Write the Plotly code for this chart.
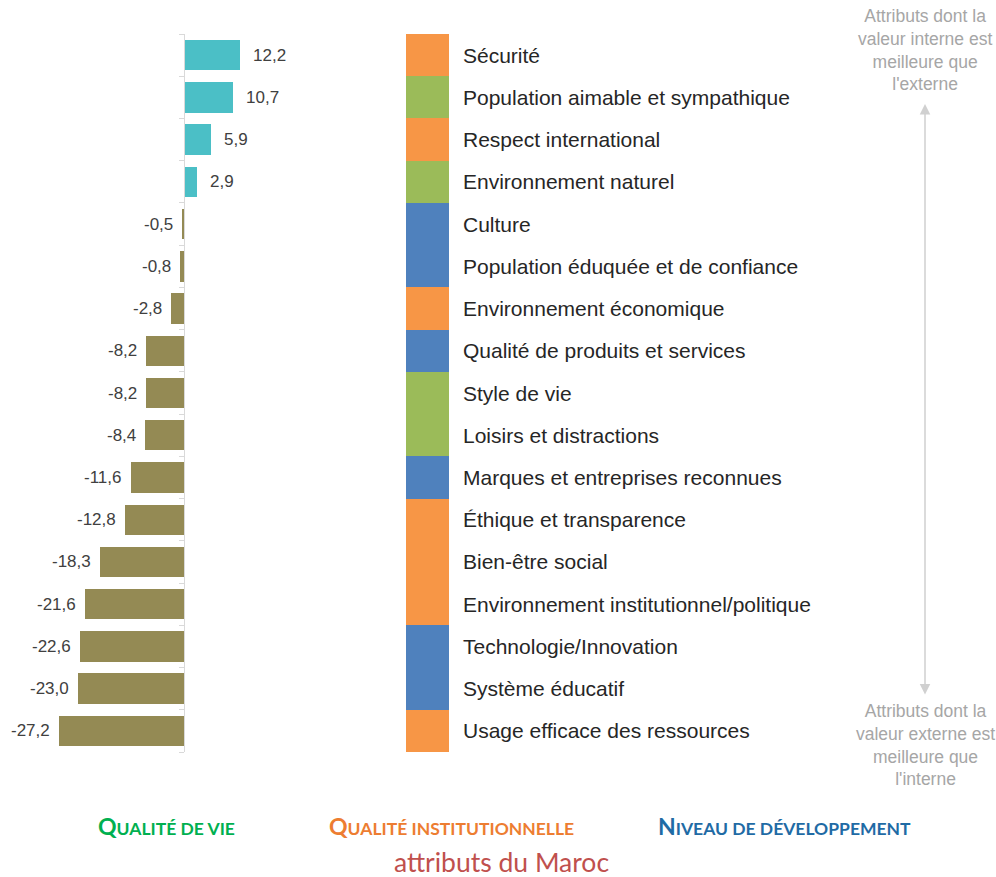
import plotly.graph_objects as go

# Attributes, ordered top to bottom
attributes = [
    "Sécurité",
    "Population aimable et sympathique",
    "Respect international",
    "Environnement naturel",
    "Culture",
    "Population éduquée et de confiance",
    "Environnement économique",
    "Qualité de produits et services",
    "Style de vie",
    "Loisirs et distractions",
    "Marques et entreprises reconnues",
    "Éthique et transparence",
    "Bien-être social",
    "Environnement institutionnel/politique",
    "Technologie/Innovation",
    "Système éducatif",
    "Usage efficace des ressources",
]
gaps = [12.2, 10.7, 5.9, 2.9, -0.5, -0.8, -2.8, -8.2, -8.2, -8.4,
        -11.6, -12.8, -18.3, -21.6, -22.6, -23.0, -27.2]
groups = ["inst", "vie", "inst", "vie", "dev", "dev", "inst", "dev", "vie", "vie",
          "dev", "inst", "inst", "inst", "dev", "dev", "inst"]

group_names = {
    "vie": ("Q", "UALITÉ DE VIE"),
    "inst": ("Q", "UALITÉ INSTITUTIONNELLE"),
    "dev": ("N", "IVEAU DE DÉVELOPPEMENT"),
}
strip_colors = {"vie": "#9BBB59", "inst": "#F79646", "dev": "#4F81BD"}
legend_colors = {"vie": "#00B050", "inst": "#ED7D31", "dev": "#1F6BA5"}

POS_COLOR = "#4BBFC6"
NEG_COLOR = "#948A54"

rows = list(range(len(attributes)))
W, H = 996, 877

fig = go.Figure()

# Gap bars
fig.add_trace(go.Bar(
    x=gaps, y=rows, orientation="h", width=0.72,
    marker=dict(color=[POS_COLOR if v >= 0 else NEG_COLOR for v in gaps], line_width=0),
    xaxis="x", yaxis="y", hoverinfo="skip",
))

# Category colour strip
fig.add_trace(go.Bar(
    x=[1] * len(rows), y=rows, orientation="h", width=1,
    marker=dict(color=[strip_colors[g] for g in groups], line_width=0),
    xaxis="x2", yaxis="y", hoverinfo="skip",
))

annotations = []
# Value labels next to bars
for i, v in enumerate(gaps):
    annotations.append(dict(
        x=v, y=i, xref="x", yref="y",
        text=f"{v:.1f}".replace(".", ","),
        showarrow=False,
        xanchor="left" if v >= 0 else "right",
        xshift=11 if v >= 0 else -7,
        font=dict(family="Liberation Sans, Arial", size=17, color="#404040"),
    ))

# Attribute names to the right of the strip
for i, name in enumerate(attributes):
    annotations.append(dict(
        x=461 / W, y=i, xref="paper", yref="y",
        text=name, showarrow=False, xanchor="left",
        font=dict(family="Liberation Sans, Arial", size=21, color="#262626"),
    ))

side_font = dict(family="Liberation Sans, Arial", size=17.5, color="#A6A6A6")
annotations.append(dict(
    x=925 / W, y=1 - 4 / H, xref="paper", yref="paper",
    xanchor="center", yanchor="top",
    text="Attributs dont la<br>valeur interne est<br>meilleure que<br>l'externe",
    showarrow=False, align="center", font=side_font,
))
annotations.append(dict(
    x=925 / W, y=1 - 699 / H, xref="paper", yref="paper",
    xanchor="center", yanchor="top",
    text="Attributs dont la<br>valeur externe est<br>meilleure que<br>l'interne",
    showarrow=False, align="center", font=side_font,
))
# Double-headed direction arrow
annotations.append(dict(
    x=925 / W, y=1 - 104 / H, xref="paper", yref="paper",
    ax=0, ay=592, axref="pixel", ayref="pixel",
    text="", showarrow=True, arrowside="end+start",
    arrowhead=2, arrowsize=1.4, arrowwidth=1.5, arrowcolor="#D0D0D0",
))

# Group legend in small caps
legend_x = {"vie": 166, "inst": 451, "dev": 784}
for g in ["vie", "inst", "dev"]:
    first, rest = group_names[g]
    annotations.append(dict(
        x=legend_x[g] / W, y=1 - 826 / H, xref="paper", yref="paper",
        text=f"<b><span style='font-size:23px'>{first}</span>{rest}</b>",
        showarrow=False, xanchor="center", yanchor="middle",
        font=dict(family="Lato", size=17.5, color=legend_colors[g]),
    ))

annotations.append(dict(
    x=501 / W, y=1 - 862 / H, xref="paper", yref="paper",
    text="attributs du Maroc", showarrow=False, xanchor="center", yanchor="middle",
    font=dict(family="Lato", size=26.5, color="#C0504D"),
))

zero_px, px_per_unit, bars_right = 184, 4.59, 300
fig.update_layout(
    width=W, height=H,
    margin=dict(l=0, r=0, t=0, b=0),
    paper_bgcolor="white", plot_bgcolor="white",
    showlegend=False, bargap=0,
    annotations=annotations,
    xaxis=dict(
        domain=[0, bars_right / W],
        range=[-zero_px / px_per_unit, (bars_right - zero_px) / px_per_unit],
        visible=False, fixedrange=True,
    ),
    xaxis2=dict(domain=[406 / W, 449 / W], range=[0, 1], visible=False, anchor="y"),
    yaxis=dict(
        domain=[1 - 752 / H, 1 - 34 / H],
        range=[len(rows) - 0.5, -0.5],
        anchor="free", position=zero_px / W,
        showline=True, linecolor="#D9D9D9", linewidth=1,
        ticks="outside", ticklen=5, tickcolor="#D9D9D9",
        tickvals=[r - 0.5 for r in rows] + [len(rows) - 0.5],
        showticklabels=False, showgrid=False, zeroline=False,
    ),
)

fig.write_html("out.html")
